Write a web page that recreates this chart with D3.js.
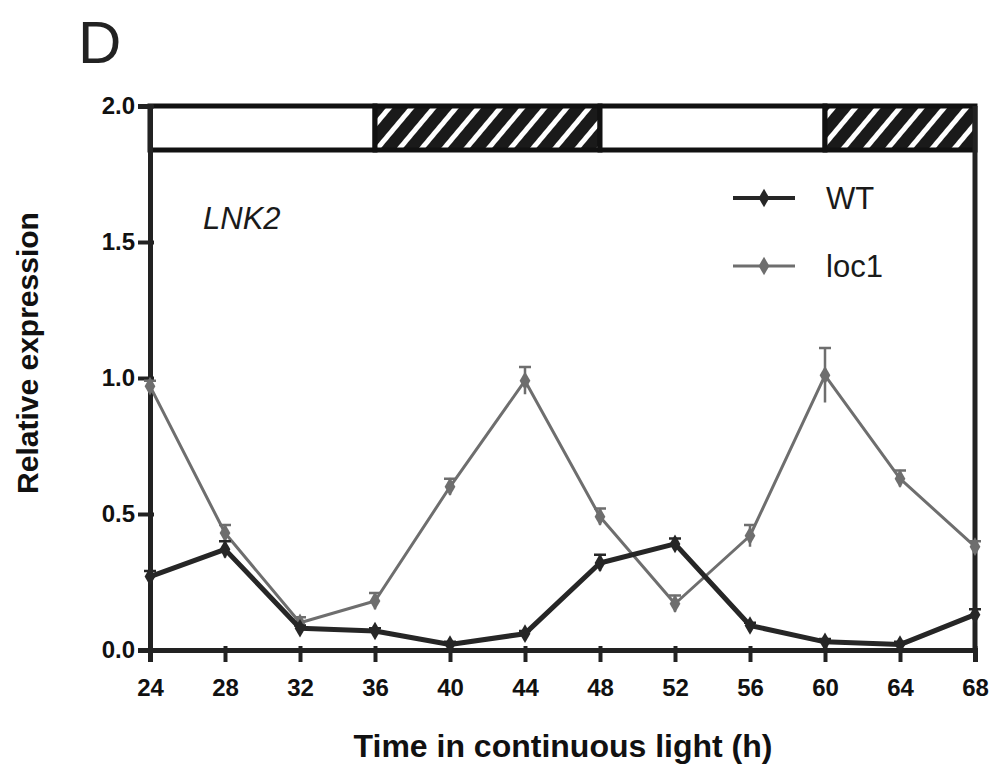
<!DOCTYPE html>
<html>
<head>
<meta charset="utf-8">
<script src="https://cdn.jsdelivr.net/npm/d3@7"></script>
<style>
  body { margin: 0; background: #fff; }
  text { font-family: "Liberation Sans", Arial, sans-serif; }
</style>
</head>
<body>
<script>
// ---- data ----
var hours = [24, 28, 32, 36, 40, 44, 48, 52, 56, 60, 64, 68];
var wtValues = [0.27, 0.37, 0.08, 0.07, 0.02, 0.06, 0.32, 0.39, 0.09, 0.03, 0.02, 0.13];
var wtErrors = [0.02, 0.03, 0.01, 0.01, 0.01, 0.01, 0.03, 0.02, 0.01, 0.01, 0.01, 0.02];
var loc1Values = [0.97, 0.43, 0.10, 0.18, 0.60, 0.99, 0.49, 0.17, 0.42, 1.01, 0.63, 0.38];
var loc1Errors = [0.02, 0.03, 0.02, 0.03, 0.03, 0.05, 0.03, 0.03, 0.04, 0.10, 0.03, 0.02];
var yTicks = [0.0, 0.5, 1.0, 1.5, 2.0];
var lightPhases = [
  {start: 24, end: 36, dark: false},
  {start: 36, end: 48, dark: true},
  {start: 48, end: 60, dark: false},
  {start: 60, end: 68, dark: true}
];

// ---- layout ----
var width_outer = 1002, height_outer = 778;
var margin = {top: 106, right: 27, bottom: 128, left: 150};
var width = width_outer - margin.left - margin.right;
var height = height_outer - margin.top - margin.bottom;
var barHeight = 44;

var svg = d3.select("body").append("svg")
  .attr("width", width_outer)
  .attr("height", height_outer);

var defs = svg.append("defs");
var hatch = defs.append("pattern")
  .attr("id", "hatch")
  .attr("patternUnits", "userSpaceOnUse")
  .attr("width", 17).attr("height", 17)
  .attr("patternTransform", "rotate(40)");
hatch.append("rect").attr("width", 17).attr("height", 17).attr("fill", "#fff");
hatch.append("rect").attr("width", 12).attr("height", 17).attr("fill", "#1a1a1a");

var g = svg.append("g")
  .attr("transform", "translate(" + margin.left + "," + margin.top + ")");

var x = d3.scaleLinear().domain([24, 68]).range([0, width]);
var y = d3.scaleLinear().domain([0, 2]).range([height, 0]);

// light/dark bar on top
g.selectAll(".phase")
  .data(lightPhases)
  .enter().append("rect")
  .attr("class", "phase")
  .attr("x", d => x(d.start))
  .attr("y", y(2))
  .attr("width", d => x(d.end) - x(d.start))
  .attr("height", barHeight)
  .attr("fill", d => d.dark ? "url(#hatch)" : "#fff")
  .attr("stroke", "#111")
  .attr("stroke-width", 5);

// right frame line
g.append("line")
  .attr("x1", x(68)).attr("x2", x(68))
  .attr("y1", y(2)).attr("y2", height)
  .attr("stroke", "#222").attr("stroke-width", 5);

// axes
var xAxis = d3.axisBottom(x).tickValues(hours).tickSize(12).tickPadding(17);
var yAxis = d3.axisLeft(y).tickValues(yTicks).tickSize(12).tickPadding(3)
  .tickFormat(d3.format(".1f"));

var gx = g.append("g").attr("transform", "translate(0," + height + ")").call(xAxis);
var gy = g.append("g").call(yAxis);
[gx, gy].forEach(function(a) {
  a.select(".domain").attr("stroke", "#222").attr("stroke-width", 5);
  a.selectAll(".tick line").attr("stroke", "#222").attr("stroke-width", 4);
  a.selectAll(".tick text")
    .attr("fill", "#111")
    .style("font-size", "24px")
    .style("font-weight", "bold");
});
gx.selectAll(".tick line").attr("y1", -4);
gy.selectAll(".tick line").attr("x1", 4);

// lines
var line = d3.line()
  .x((d, i) => x(hours[i]))
  .y(d => y(d));

function drawSeries(values, errors, color, lw, cls) {
  var s = g.append("g").attr("class", cls);
  s.selectAll(".err")
    .data(values)
    .enter().append("path")
    .attr("class", "err")
    .attr("d", function(d, i) {
      var cx = x(hours[i]), t = y(d + errors[i]), b = y(d - errors[i]);
      return "M" + cx + "," + b + "V" + t + "M" + (cx - 6) + "," + t + "H" + (cx + 6);
    })
    .attr("stroke", color).attr("stroke-width", 2.5).attr("fill", "none");
  s.append("path")
    .datum(values)
    .attr("d", line)
    .attr("fill", "none")
    .attr("stroke", color)
    .attr("stroke-width", lw)
    .attr("stroke-linejoin", "round");
  s.selectAll(".pt")
    .data(values)
    .enter().append("path")
    .attr("class", "pt")
    .attr("transform", (d, i) => "translate(" + x(hours[i]) + "," + y(d) + ")")
    .attr("d", d3.symbol(d3.symbolDiamond, 100))
    .attr("fill", color);
}

drawSeries(loc1Values, loc1Errors, "#6e6e6e", 3, "loc1");
drawSeries(wtValues, wtErrors, "#262626", 5, "wt");

// gene label
g.append("text")
  .attr("x", 53).attr("y", 123)
  .style("font-size", "31px")
  .style("font-style", "italic")
  .attr("fill", "#1a1a1a")
  .text("LNK2");

// legend
var legendItems = [
  {name: "WT", color: "#262626", lw: 4, ly: 92},
  {name: "loc1", color: "#6e6e6e", lw: 3, ly: 160}
];
var leg = g.selectAll(".legend")
  .data(legendItems)
  .enter().append("g")
  .attr("class", "legend")
  .attr("transform", d => "translate(583," + d.ly + ")");
leg.append("line")
  .attr("x1", 0).attr("x2", 62)
  .attr("stroke", d => d.color).attr("stroke-width", d => d.lw);
leg.append("path")
  .attr("transform", "translate(31,0)")
  .attr("d", d3.symbol(d3.symbolDiamond, 100))
  .attr("fill", d => d.color);
leg.append("text")
  .attr("x", 93).attr("y", 11)
  .style("font-size", "31px")
  .attr("fill", "#1a1a1a")
  .text(d => d.name);

// axis titles
svg.append("text")
  .attr("transform", "translate(38," + (margin.top + height / 2 - 25) + ") rotate(-90)")
  .attr("text-anchor", "middle")
  .style("font-size", "30px")
  .style("font-weight", "bold")
  .attr("fill", "#111")
  .text("Relative expression");

svg.append("text")
  .attr("x", 563).attr("y", 757)
  .attr("text-anchor", "middle")
  .style("font-size", "32px")
  .style("font-weight", "bold")
  .attr("fill", "#111")
  .text("Time in continuous light (h)");

// panel letter
svg.append("text")
  .attr("x", 78).attr("y", 63)
  .style("font-size", "60px")
  .style("font-weight", "300")
  .attr("fill", "#222")
  .text("D");
</script>
</body>
</html>
